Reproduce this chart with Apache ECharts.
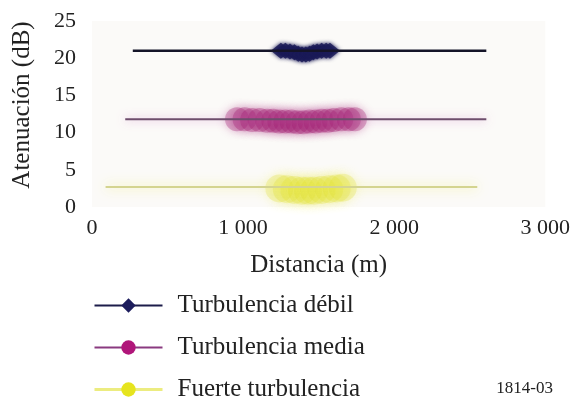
<!DOCTYPE html>
<html>
<head>
<meta charset="utf-8">
<script src="https://cdn.jsdelivr.net/npm/echarts@6/dist/echarts.min.js"></script>
<style>html,body{margin:0;padding:0;background:#fff}#c{width:573px;height:403px}</style>
</head>
<body>
<div id="c"></div>
<script>
// ---- data ----
const seriesNames = ['Turbulencia débil', 'Turbulencia media', 'Fuerte turbulencia'];
const xTicks = [0, 1000, 2000, 3000];
const yTicks = [0, 5, 10, 15, 20, 25];

// fitted lines (distance m, attenuation dB)
const debilLineX = [270, 2610];
const debilLineY = [21, 21];
const mediaLineX = [220, 2610];
const mediaLineY = [11.8, 11.8];
const fuerteLineX = [90, 2550];
const fuerteLineY = [2.7, 2.7];

// measured points (clustered)
const debilPtsX = [1250, 1280, 1310, 1340, 1365, 1390, 1415, 1440, 1465, 1490, 1520, 1550, 1575];
const debilPtsY = [21.0, 21.0, 20.9, 20.8, 20.6, 20.5, 20.5, 20.6, 20.8, 20.9, 21.0, 21.0, 21.0];
const mediaPtsX = [960, 1010, 1060, 1110, 1160, 1200, 1240, 1280, 1320, 1360, 1400, 1440, 1480, 1520, 1560, 1600, 1650, 1700, 1740];
const mediaPtsY = [11.8, 11.8, 11.7, 11.7, 11.6, 11.6, 11.5, 11.5, 11.5, 11.4, 11.4, 11.5, 11.5, 11.6, 11.6, 11.7, 11.8, 11.8, 11.8];
const fuertePtsX = [1240, 1290, 1340, 1390, 1430, 1470, 1520, 1570, 1620, 1660];
const fuertePtsY = [2.5, 2.4, 2.3, 2.2, 2.2, 2.2, 2.3, 2.4, 2.5, 2.6];

const zip = (xs, ys) => xs.map((x, i) => [x, ys[i]]);
const fmt = v => String(v).replace(/\B(?=(\d{3})+(?!\d))/g, ' ');

const FONT = 'Liberation Serif';
const chart = echarts.init(document.getElementById('c'), null, {renderer: 'canvas'});
chart.setOption({
  animation: false,
  backgroundColor: '#ffffff',
  grid: {left: 92, right: 26, top: 21, bottom: 196, show: true, backgroundColor: '#fbfaf8', borderWidth: 0},
  xAxis: {
    type: 'value', min: xTicks[0], max: xTicks[xTicks.length - 1], interval: 1000,
    name: 'Distancia (m)', nameLocation: 'middle', nameGap: 46,
    nameTextStyle: {fontFamily: FONT, fontSize: 25, color: '#222'},
    axisLine: {show: false}, axisTick: {show: false}, splitLine: {show: false},
    axisLabel: {fontFamily: FONT, fontSize: 22, color: '#222', margin: 10, formatter: fmt}
  },
  yAxis: {
    type: 'value', min: yTicks[0], max: yTicks[yTicks.length - 1], interval: 5,
    name: 'Atenuación (dB)', nameLocation: 'middle', nameGap: 57,
    nameTextStyle: {fontFamily: FONT, fontSize: 25, color: '#222', padding: [0, 0, 0, 18]},
    axisLine: {show: false}, axisTick: {show: false}, splitLine: {show: false},
    axisLabel: {fontFamily: FONT, fontSize: 22, color: '#222', margin: 16}
  },
  legend: {
    orient: 'vertical', left: 88, top: 288, height: 140, itemWidth: 68, itemHeight: 18, itemGap: 17,
    textStyle: {fontFamily: FONT, fontSize: 25, color: '#222', padding: [0, 0, 0, 10]},
    data: [
      {name: seriesNames[0], itemStyle: {color: '#1c1c5c'}, lineStyle: {color: '#1c1c4a', width: 2}},
      {name: seriesNames[1], itemStyle: {color: '#b0167a'}, lineStyle: {color: '#8a3a80', width: 2}},
      {name: seriesNames[2], itemStyle: {color: '#e6e41e'}, lineStyle: {color: '#ecec80', width: 3}}
    ]
  },
  graphic: [{type: 'text', right: 20, bottom: 6, style: {text: '1814-03', fontFamily: FONT, fontSize: 17, fill: '#222'}}],
  series: [
    {name: seriesNames[2], type: 'line', symbol: 'circle', showSymbol: false, data: zip(fuerteLineX, fuerteLineY),
     itemStyle: {color: '#e6e41e'},
     lineStyle: {color: '#d4d490', width: 2, shadowBlur: 12, shadowColor: 'rgba(240,240,110,0.9)'}},
    {name: seriesNames[1], type: 'line', symbol: 'circle', showSymbol: false, data: zip(mediaLineX, mediaLineY),
     itemStyle: {color: '#b0167a'},
     lineStyle: {color: '#6e4d6c', width: 2, shadowBlur: 10, shadowColor: 'rgba(215,140,205,0.8)'}},
    {name: seriesNames[0], type: 'line', symbol: 'diamond', showSymbol: false, data: zip(debilLineX, debilLineY),
     itemStyle: {color: '#1c1c5c'},
     lineStyle: {color: '#141428', width: 2.5}},
    {name: seriesNames[2], type: 'scatter', symbol: 'circle', symbolSize: 28, data: zip(fuertePtsX, fuertePtsY),
     itemStyle: {color: '#dedc22', opacity: 0.24, shadowBlur: 12, shadowColor: '#eeee50'}},
    {name: seriesNames[1], type: 'scatter', symbol: 'circle', symbolSize: 24, data: zip(mediaPtsX, mediaPtsY),
     itemStyle: {color: '#9c1268', opacity: 0.3, shadowBlur: 10, shadowColor: '#b03888'}},
    {name: seriesNames[0], type: 'scatter', symbol: 'diamond', symbolSize: [20, 16], data: zip(debilPtsX, debilPtsY),
     itemStyle: {color: '#1b1b58', opacity: 0.85, shadowBlur: 4, shadowColor: '#1b1b58'}}
  ]
});
</script>
</body>
</html>
